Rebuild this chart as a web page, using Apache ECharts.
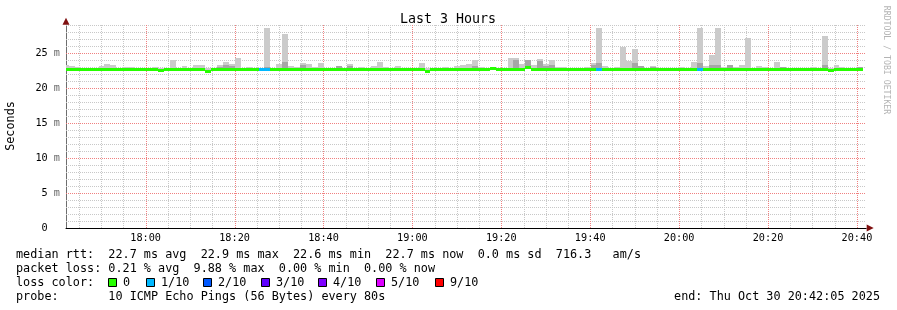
<!DOCTYPE html>
<html><head><meta charset="utf-8">
<script src="https://cdn.jsdelivr.net/npm/echarts@6/dist/echarts.min.js"></script>
<style>html,body{margin:0;padding:0;background:#fff}#c{width:897px;height:310px}</style>
</head><body><div id="c"></div>
<script>
// ---------------- data ----------------
const chartTitle = 'Last 3 Hours';
const yAxisName = 'Seconds';
const watermark = 'RRDTOOL / TOBI OETIKER';
const xRange = ['17:42:05', '20:42:05'];
const yRange = [0, 29];
const firstStep = '17:41:24';
const stepSeconds = 80;
const timeLabels = ['18:00','18:20','18:40','19:00','19:20','19:40','20:00','20:20','20:40'];
const minorTimes = ['17:45','17:50','17:55','18:05','18:10','18:15','18:25','18:30','18:35',
  '18:45','18:50','18:55','19:05','19:10','19:15','19:25','19:30','19:35','19:45','19:50','19:55',
  '20:05','20:10','20:15','20:25','20:30','20:35'];
const yMajor = [5, 10, 15, 20, 25];
const yMinor = [1,2,3,4,6,7,8,9,11,12,13,14,16,17,18,19,21,22,23,24,26,27,28,29];

// median rtt per 80 s step (ms)
const median = [
 22.7,22.7,22.7,22.7,22.7,22.7,22.7,22.7,22.7,22.7,
 22.7,22.7,22.7,22.7,22.7,22.7,22.55,22.7,22.7,22.7,
 22.7,22.7,22.7,22.7,22.38,22.7,22.7,22.7,22.7,22.7,
 22.7,22.7,22.7,22.7,22.7,22.7,22.7,22.7,22.7,22.7,
 22.7,22.7,22.7,22.7,22.7,22.7,22.7,22.7,22.7,22.7,
 22.7,22.7,22.7,22.7,22.7,22.7,22.7,22.7,22.7,22.7,
 22.7,22.4,22.7,22.7,22.7,22.7,22.7,22.7,22.7,22.7,
 22.7,22.7,22.88,22.7,22.7,22.7,22.7,22.7,22.9,22.7,
 22.7,22.7,22.7,22.7,22.7,22.7,22.7,22.7,22.7,22.7,
 22.7,22.7,22.7,22.7,22.7,22.7,22.7,22.7,22.7,22.7,
 22.7,22.7,22.7,22.7,22.7,22.7,22.7,22.7,22.7,22.7,
 22.7,22.7,22.7,22.7,22.7,22.7,22.7,22.7,22.7,22.7,
 22.7,22.7,22.7,22.7,22.7,22.7,22.7,22.7,22.7,22.6,
 22.7,22.7,22.7,22.7,22.7
];
// top of the light smoke per step (ms)
const smokeHigh = [
 23.35,23.2,23.0,22.85,22.85,22.9,23.15,23.4,23.25,22.9,
 23.0,23.0,22.9,22.85,22.9,23.05,22.85,22.9,24.1,22.9,
 23.2,22.9,23.35,23.35,22.85,22.95,23.35,23.75,23.45,24.3,
 22.95,23.05,22.9,22.9,28.65,22.85,23.45,27.75,23.2,23.05,
 23.65,23.45,23.0,23.6,22.9,22.9,23.2,22.85,23.4,22.85,
 23.05,22.9,23.2,23.75,23.05,22.95,23.2,22.9,22.95,22.95,
 23.65,22.85,22.9,22.9,23.05,22.9,23.2,23.35,23.5,24.0,
 23.05,22.95,23.05,22.9,22.95,24.3,24.3,23.45,24.0,23.35,
 24.2,23.4,24.0,23.05,23.05,22.95,22.95,22.95,23.05,23.55,
 28.65,23.2,22.95,23.05,25.95,23.9,25.65,23.2,22.95,23.2,
 22.95,22.95,22.95,22.95,23.05,22.95,23.75,28.65,23.2,24.8,
 28.65,23.05,23.35,23.0,23.35,27.2,22.95,23.2,23.0,22.95,
 23.8,23.05,22.95,22.95,22.95,22.95,23.0,22.95,27.45,22.95,
 23.35,23.0,22.95,22.95,23.05
];
// top of the darker smoke core per step (ms), null = none
const smokeDark = [
 null,null,null,null,null,null,null,null,null,null,
 null,null,null,null,null,null,null,null,null,null,
 null,null,null,null,null,null,23.05,23.3,23.15,null,
 null,null,null,null,23.0,null,null,23.75,null,null,
 23.3,null,null,null,null,null,23.2,null,23.2,null,
 null,null,null,null,null,null,null,null,null,null,
 null,null,null,null,null,null,null,null,null,23.2,
 null,null,null,null,null,null,24.0,null,24.0,null,
 23.85,23.2,23.3,null,null,null,null,null,null,23.25,
 23.55,null,null,null,null,null,23.55,23.2,null,23.1,
 null,null,null,null,null,null,null,23.55,null,23.35,
 23.3,null,23.35,null,null,null,null,null,null,null,
 null,23.05,null,null,null,null,null,null,23.35,null,
 null,null,null,null,23.05
];
// lost pings (of 10) per step
const lossCount = [
 0,0,0,0,0,0,0,0,0,0, 0,0,0,0,0,0,0,0,0,0, 0,0,0,0,0,0,0,0,0,0,
 0,0,0,1,1,0,0,0,0,0, 0,0,0,0,0,0,0,0,0,0, 0,0,0,0,0,0,0,0,0,0,
 0,0,0,0,0,0,0,0,0,0, 0,0,0,0,0,0,0,0,0,0, 0,0,0,0,0,0,0,0,0,0,
 1,0,0,0,0,0,0,0,0,0, 0,0,0,0,0,0,0,1,0,0, 0,0,0,0,0,0,0,0,0,0,
 0,0,0,0,0,0,0,0,0,0, 0,0,0,0,0
];
const lossLegend = [
 {label: '0',    color: '#26ff00'},
 {label: '1/10', color: '#00b8ff'},
 {label: '2/10', color: '#0059ff'},
 {label: '3/10', color: '#5e00ff'},
 {label: '4/10', color: '#7e00ff'},
 {label: '5/10', color: '#dd00ff'},
 {label: '9/10', color: '#ff0000'}
];
const lossColorByCount = {0:'#26ff00',1:'#00b8ff',2:'#0059ff',3:'#5e00ff',4:'#7e00ff',5:'#dd00ff',6:'#dd00ff',7:'#dd00ff',8:'#dd00ff',9:'#ff0000',10:'#ff0000'};
const statLines = [
 'median rtt:  22.7 ms avg  22.9 ms max  22.6 ms min  22.7 ms now  0.0 ms sd  716.3   am/s',
 'packet loss: 0.21 % avg  9.88 % max  0.00 % min  0.00 % now',
 'loss color:',
 'probe:       10 ICMP Echo Pings (56 Bytes) every 80s'
];
const endText = 'end: Thu Oct 30 20:42:05 2025';

// ---------------- build ----------------
const MONO = "'DejaVu Sans Mono', monospace";
const MINOR_COLOR = '#c8c8c8', MAJOR_COLOR = '#f08080', ARROW_COLOR = '#7f1010';
const toSec = s => { const p = s.split(':').map(Number); return p[0]*3600 + p[1]*60 + (p[2] || 0); };
const fmt = v => { const h = Math.floor(v/3600), m = Math.round((v - h*3600)/60); return String(h).padStart(2,'0') + ':' + String(m).padStart(2,'0'); };
const t0 = toSec(firstStep);
const xMin = toSec(xRange[0]), xMax = toSec(xRange[1]);
const stepData = median.map((m, i) => [t0 + i*stepSeconds, t0 + (i+1)*stepSeconds, m, smokeHigh[i], smokeDark[i] == null ? '-' : smokeDark[i], lossCount[i]]);
const vMinor = minorTimes.map(t => [toSec(t), 0]);
const vMajor = timeLabels.map(t => [toSec(t), 0]);
const hMinor = yMinor.map(v => [xMin, v]);
const hMajor = yMajor.map(v => [xMin, v]);

function renderStep(params, api) {
  const cs = params.coordSys;
  const ta = api.value(0), tb = api.value(1), med = api.value(2), hi = api.value(3), dk = api.value(4), loss = api.value(5);
  const x0 = Math.round(Math.max(api.coord([ta, med])[0], cs.x));
  const x1 = Math.round(Math.min(api.coord([tb, med])[0], cs.x + cs.width));
  const yMed = api.coord([ta, med])[1];
  const yHi = Math.round(api.coord([ta, hi])[1]);
  const ch = [];
  ch.push({type: 'rect', shape: {x: x0, y: yHi, width: x1 - x0, height: Math.round(yMed) - yHi}, style: {fill: '#cbcbcb'}});
  if (!isNaN(dk)) {
    const yDk = Math.round(api.coord([ta, dk])[1]);
    ch.push({type: 'rect', shape: {x: x0, y: yDk, width: x1 - x0, height: Math.round(yMed) - yDk}, style: {fill: '#a6a6a6'}});
  }
  ch.push({type: 'rect', shape: {x: x0, y: Math.round(yMed - 1.5), width: x1 - x0, height: 3}, style: {fill: lossColorByCount[loss]}});
  return {type: 'group', children: ch};
}
const vGridRenderer = color => (params, api) => {
  const cs = params.coordSys;
  const x = Math.round(api.coord([api.value(0), 0])[0]) + 0.5;
  return {type: 'line', shape: {x1: x, y1: Math.round(cs.y), x2: x, y2: Math.round(cs.y + cs.height)},
    style: {stroke: color, lineWidth: 1, lineDash: [1, 1]}};
};
const hGridRenderer = color => (params, api) => {
  const cs = params.coordSys;
  const y = Math.round(api.coord([xMin, api.value(1)])[1]) + 0.5;
  return {type: 'line', shape: {x1: Math.round(cs.x), y1: y, x2: Math.round(cs.x + cs.width), y2: y},
    style: {stroke: color, lineWidth: 1, lineDash: [1, 1]}};
};

const graphics = [];
graphics.push({type: 'text', x: 448, y: 20, style: {text: chartTitle, font: '13.3px ' + MONO, fill: '#000', align: 'center', verticalAlign: 'middle'}});
graphics.push({type: 'text', x: 11, y: 126, rotation: Math.PI/2, style: {text: yAxisName, font: '11.8px ' + MONO, fill: '#000', align: 'center', verticalAlign: 'middle'}});
graphics.push({type: 'text', x: 886, y: 60, rotation: -Math.PI/2, style: {text: watermark, font: '8.2px ' + MONO, fill: '#b4b4b4', align: 'center', verticalAlign: 'middle'}});
const lineY = [254.5, 268.5, 282.5, 296.5];
statLines.forEach((s, i) => graphics.push({type: 'text', x: 16, y: lineY[i], style: {text: s, font: '11.8px ' + MONO, fill: '#000', align: 'left', verticalAlign: 'middle'}}));
const boxX = [108, 146, 203, 261, 318, 376, 435];
const boxTextX = [123, 161, 218, 276, 333, 391, 450];
lossLegend.forEach((l, i) => {
  graphics.push({type: 'rect', shape: {x: boxX[i] + 0.5, y: 278.5, width: 8, height: 8}, style: {fill: l.color, stroke: '#000', lineWidth: 1}});
  graphics.push({type: 'text', x: boxTextX[i], y: lineY[2], style: {text: l.label, font: '11.8px ' + MONO, fill: '#000', align: 'left', verticalAlign: 'middle'}});
});
graphics.push({type: 'text', x: 880, y: lineY[3], style: {text: endText, font: '11.8px ' + MONO, fill: '#000', align: 'right', verticalAlign: 'middle'}});

const arrowAxis = (pos) => ({
  show: true, position: pos, min: pos === 'bottom' ? xMin : yRange[0], max: pos === 'bottom' ? xMax : yRange[1],
  type: 'value', splitLine: {show: false}, axisTick: {show: false}, axisLabel: {show: false},
  axisLine: {show: true, symbol: ['none', 'triangle'], symbolSize: [7, 7], symbolOffset: [0, 4], lineStyle: {color: ARROW_COLOR, width: 0}}
});

const chart = echarts.init(document.getElementById('c'), null, {renderer: 'canvas'});
chart.setOption({
  animation: false,
  backgroundColor: '#ffffff',
  grid: {left: 66, top: 25.3, width: 800.2, height: 202.7, containLabel: false},
  xAxis: [{
    type: 'value', min: xMin, max: xMax,
    splitLine: {show: false}, axisTick: {show: false},
    axisLine: {show: true, symbol: 'none', lineStyle: {color: '#000', width: 1}},
    axisLabel: {customValues: timeLabels.map(toSec), formatter: v => fmt(v), margin: 5, fontFamily: 'DejaVu Sans Mono', fontSize: 10.2, color: '#000'}
  }, arrowAxis('bottom')],
  yAxis: [{
    type: 'value', min: yRange[0], max: yRange[1], interval: 1,
    splitLine: {show: false}, axisTick: {show: false},
    axisLine: {show: true, symbol: 'none', lineStyle: {color: '#6e6e6e', width: 1}},
    axisLabel: {
      margin: 6, fontFamily: 'DejaVu Sans Mono', fontSize: 10.2, color: '#000',
      formatter: v => v === 0 ? '0  ' : (yMajor.includes(v) ? v + ' {u|m}' : ''),
      rich: {u: {fontFamily: 'DejaVu Sans Mono', fontSize: 10.2, color: '#666'}}
    }
  }, arrowAxis('left')],
  series: [
    {type: 'custom', renderItem: hGridRenderer(MINOR_COLOR), data: hMinor, z: 1, silent: true, clip: false, encode: {x: 0, y: 1}},
    {type: 'custom', renderItem: vGridRenderer(MINOR_COLOR), data: vMinor, z: 1, silent: true, clip: false, encode: {x: 0, y: 1}},
    {type: 'custom', renderItem: hGridRenderer(MAJOR_COLOR), data: hMajor, z: 1, silent: true, clip: false, encode: {x: 0, y: 1}},
    {type: 'custom', renderItem: vGridRenderer(MAJOR_COLOR), data: vMajor, z: 1, silent: true, clip: false, encode: {x: 0, y: 1}},
    {type: 'custom', renderItem: renderStep, data: stepData, z: 2, silent: true, clip: true, encode: {x: [0, 1], y: [2, 3]}}
  ],
  graphic: graphics
});
</script></body></html>
